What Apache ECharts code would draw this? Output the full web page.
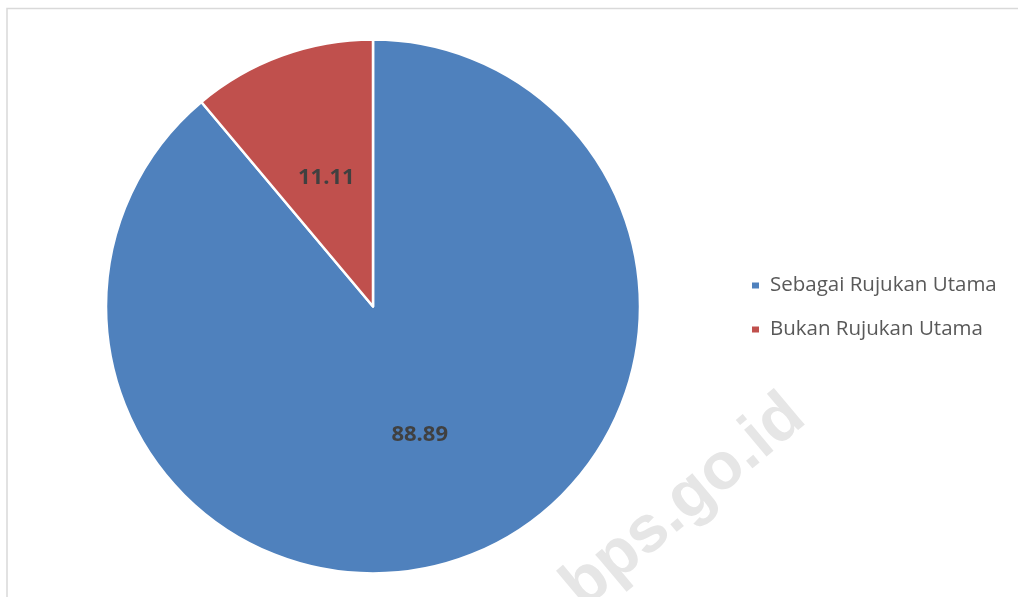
<!DOCTYPE html>
<html>
<head>
<meta charset="utf-8">
<script src="https://cdn.jsdelivr.net/npm/echarts@6/dist/echarts.min.js"></script>
<style>
  html, body { margin: 0; padding: 0; background: #ffffff; }
  #chart { width: 1018px; height: 597px; }
</style>
</head>
<body>
<div id="chart"></div>
<script>
// Share of respondents using the source as main reference (percent)
const categories = ['Sebagai Rujukan Utama', 'Bukan Rujukan Utama'];
const shares = [88.89, 11.11];
const sliceColors = ['#4F81BD', '#C0504D'];

const chart = echarts.init(document.getElementById('chart'));

chart.setOption({
  animation: false,
  backgroundColor: '#ffffff',
  graphic: [
    {
      type: 'rect',
      shape: { x: 7, y: 8.5, width: 1030, height: 620 },
      style: { fill: 'none', stroke: '#d9d9d9', lineWidth: 1.5 },
      z: 0
    },
    {
      type: 'text',
      x: 684,
      y: 502,
      rotation: Math.PI / 180 * 40,
      style: {
        text: 'bps.go.id',
        font: 'bold 66px "Liberation Sans", Arial, sans-serif',
        fill: '#e6e6e6',
        align: 'center',
        verticalAlign: 'middle'
      },
      z: 0
    }
  ],
  legend: {
    orient: 'vertical',
    left: 745,
    top: 270,
    icon: 'rect',
    itemWidth: 9,
    itemHeight: 8,
    itemGap: 23,
    textStyle: {
      color: '#595959',
      fontSize: 20.5,
      fontFamily: '"Open Sans", "Noto Sans", sans-serif',
      padding: [0, 0, 0, 5]
    },
    data: categories
  },
  series: [
    {
      type: 'pie',
      center: [373, 306.5],
      radius: [0, 267],
      startAngle: 90,
      clockwise: true,
      z: 2,
      label: {
        show: true,
        position: 'inside',
        formatter: p => p.value.toFixed(2),
        color: '#404040',
        fontSize: 22,
        fontWeight: 'bold',
        fontFamily: '"Open Sans", "Noto Sans", sans-serif'
      },
      labelLine: { show: false },
      itemStyle: { borderColor: '#ffffff', borderWidth: 2.5 },
      emphasis: { disabled: true },
      data: categories.map((name, i) => ({
        name,
        value: shares[i],
        itemStyle: { color: sliceColors[i] }
      }))
    }
  ]
});
</script>
</body>
</html>
